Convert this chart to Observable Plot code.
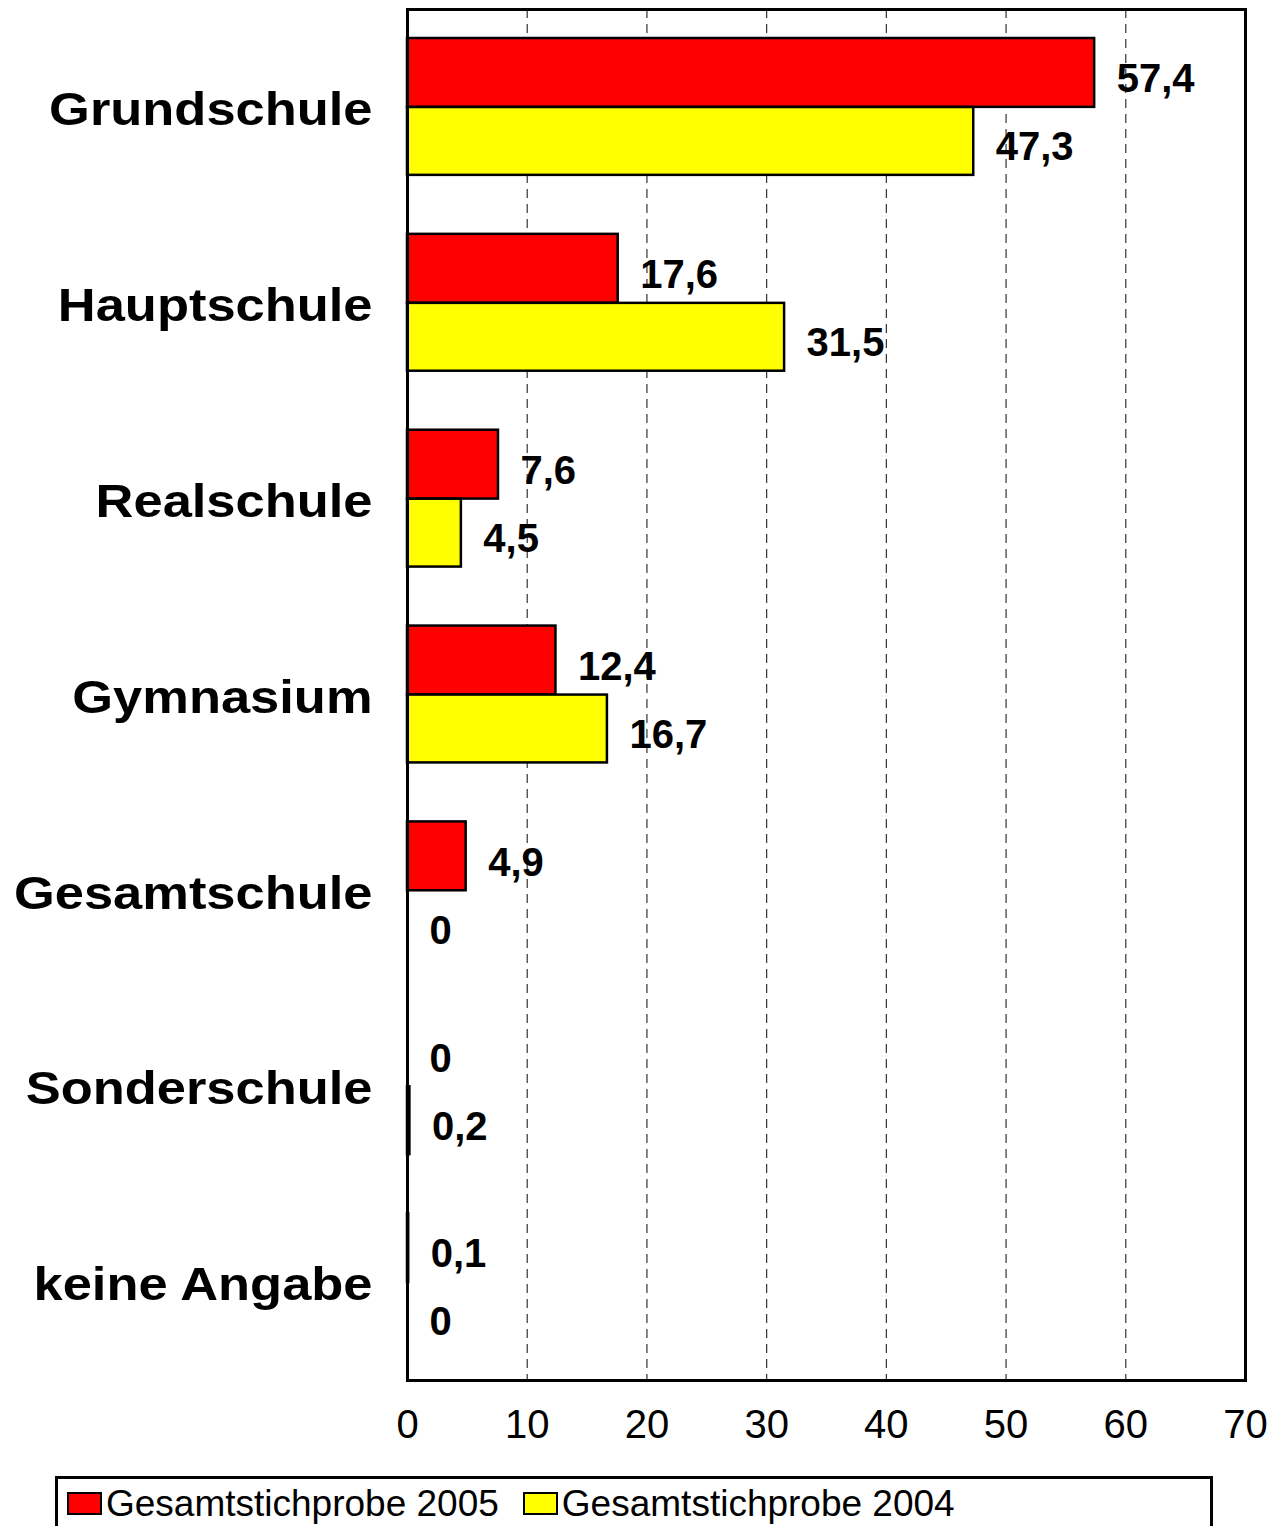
<!DOCTYPE html>
<html>
<head>
<meta charset="utf-8">
<script src="https://cdn.jsdelivr.net/npm/d3@7"></script>
<script src="https://cdn.jsdelivr.net/npm/@observablehq/plot@0.6"></script>
<style>
  html, body { margin: 0; padding: 0; background: #fff; }
  #wrap { position: relative; width: 1284px; height: 1526px; overflow: hidden; }
  #legend {
    position: absolute; left: 55px; top: 1476px; width: 1158px; height: 70px;
    box-sizing: border-box; border: 3px solid #000; background: #fff;
    font-family: "Liberation Sans", Arial, Helvetica, sans-serif;
    font-size: 37px; color: #000; display: flex; align-items: flex-start;
    padding-left: 9px; padding-top: 6px;
  }
  .item { display: flex; align-items: center; margin-right: 24px; line-height: 1; height: 37px; }
  .sw { width: 35px; height: 23px; border: 2.5px solid #000; margin-right: 4px; box-sizing: border-box; }
</style>
</head>
<body>
<div id="wrap">
  <div id="chart"></div>
  <div id="legend"></div>
</div>
<script>
const categories = ["Grundschule", "Hauptschule", "Realschule", "Gymnasium", "Gesamtschule", "Sonderschule", "keine Angabe"];
const values2005 = [57.4, 17.6, 7.6, 12.4, 4.9, 0, 0.1];
const values2004 = [47.3, 31.5, 4.5, 16.7, 0, 0.2, 0];
const seriesNames = ["Gesamtstichprobe 2005", "Gesamtstichprobe 2004"];
const seriesColors = ["#ff0000", "#ffff00"];
const xTicks = [0, 10, 20, 30, 40, 50, 60, 70];
const gridTicks = [10, 20, 30, 40, 50, 60];

const d2005 = categories.map((c, i) => ({cat: c, value: values2005[i]}));
const d2004 = categories.map((c, i) => ({cat: c, value: values2004[i]}));
const fmt = v => String(v).replace(".", ",");

const plot = Plot.plot({
  width: 1284,
  height: 1466,
  marginLeft: 407,
  marginRight: 39,
  marginTop: 9,
  marginBottom: 86,
  style: {background: "#fff", fontFamily: "'Liberation Sans', Arial, Helvetica, sans-serif", color: "#000"},
  x: {domain: [0, 70], ticks: xTicks, tickSize: 0, tickPadding: 29, label: null},
  y: {domain: categories, padding: 0, round: false, tickSize: 0, tickPadding: 35, label: null},
  marks: [
    Plot.ruleX(gridTicks, {stroke: "#333", strokeWidth: 1.2, strokeDasharray: "9,6"}),
    Plot.barX(d2005, {x: "value", y: "cat", fill: seriesColors[0], stroke: "#000", strokeWidth: 2.5, insetTop: 29, insetBottom: 98}),
    Plot.barX(d2004, {x: "value", y: "cat", fill: seriesColors[1], stroke: "#000", strokeWidth: 2.5, insetTop: 98, insetBottom: 30}),
    Plot.text(d2005, {x: "value", y: "cat", text: d => fmt(d.value), dx: 22, dy: -28, textAnchor: "start", fontSize: 40, fontWeight: "bold", fill: "#000"}),
    Plot.text(d2004, {x: "value", y: "cat", text: d => fmt(d.value), dx: 22, dy: 40, textAnchor: "start", fontSize: 40, fontWeight: "bold", fill: "#000"}),
    Plot.frame({stroke: "#000", strokeWidth: 3})
  ]
});

document.getElementById("chart").appendChild(plot);

const svg = d3.select(plot);
svg.selectAll("[aria-label^='x-axis'] text")
  .attr("font-size", 40)
  .attr("fill", "#000");
svg.selectAll("[aria-label^='y-axis'] text")
  .attr("font-size", 46)
  .attr("font-weight", "bold")
  .attr("fill", "#000")
  .each(function() {
    const w = this.getComputedTextLength();
    this.setAttribute("textLength", (w * 1.14).toFixed(1));
    this.setAttribute("lengthAdjust", "spacingAndGlyphs");
    const t = this.getAttribute("transform") || "";
    this.setAttribute("transform", (t + " translate(0,3)").trim());
  });

const legend = d3.select("#legend");
seriesNames.forEach((name, i) => {
  const item = legend.append("div").attr("class", "item");
  item.append("div").attr("class", "sw").style("background", seriesColors[i]);
  item.append("span").text(name);
});
</script>
</body>
</html>
